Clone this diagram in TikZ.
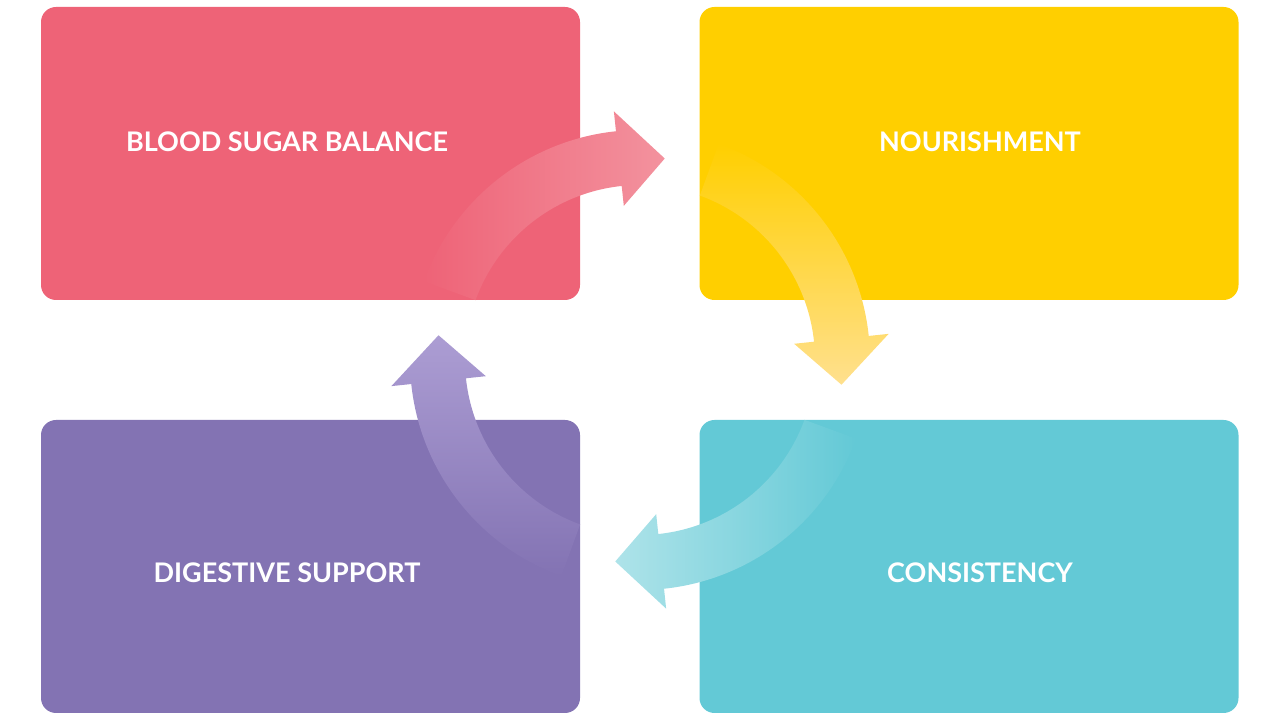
\documentclass[tikz,border=0pt]{standalone}
\usepackage{fontspec}
\setmainfont{Lato}
\usetikzlibrary{positioning}
\definecolor{sugar}{HTML}{EE6377}
\definecolor{sugarL}{HTML}{F3929E}
\definecolor{nourish}{HTML}{FFCF00}
\definecolor{nourishL}{HTML}{FFE08E}
\definecolor{consist}{HTML}{63C9D6}
\definecolor{consistL}{HTML}{AEE3E9}
\definecolor{digest}{HTML}{8373B3}
\definecolor{digestL}{HTML}{AC9DD3}
\tikzset{
  card/.style={rectangle, rounded corners=15pt, minimum width=539pt,
               minimum height=293pt, inner sep=0pt, text=white,
               font=\fontsize{27}{32}\selectfont\bfseries},
}
\begin{document}
\begin{tikzpicture}[x=1pt,y=1pt]
  \useasboundingbox (0,0) rectangle (1280,720);

  % the four cards
  \node[card, fill=sugar] (sugarbox) at (310.5,566.5) {};
  \node[card, fill=nourish] (nourishbox) at (969,566.5) {};
  \node[card, fill=digest] (digestbox) at (310.5,153.5) {};
  \node[card, fill=consist] (consistbox) at (969,153.5) {};

  % cycle arrows
  \foreach \rot/\c/\l in {0/sugar/sugarL, -90/nourish/nourishL,
                          180/consist/consistL, 90/digest/digestL} {
    \begin{scope}[shift={(640,360)}]
      \shade[left color=\c, right color=\l, shading angle=\rot+90]
        (160+\rot:230) arc[start angle=160+\rot, end angle=96+\rot, radius=230]
        -- (96+\rot:250) -- (83+\rot:203) -- (96+\rot:155)
        -- (96+\rot:175) arc[start angle=96+\rot, end angle=160+\rot, radius=175]
        -- cycle;
    \end{scope}
  }

  % labels
  \node[card] at (287,578) {BLOOD SUGAR BALANCE};
  \node[card] at (980,578) {NOURISHMENT};
  \node[card] at (287,147) {DIGESTIVE SUPPORT};
  \node[card] at (980,147) {CONSISTENCY};
\end{tikzpicture}
\end{document}
